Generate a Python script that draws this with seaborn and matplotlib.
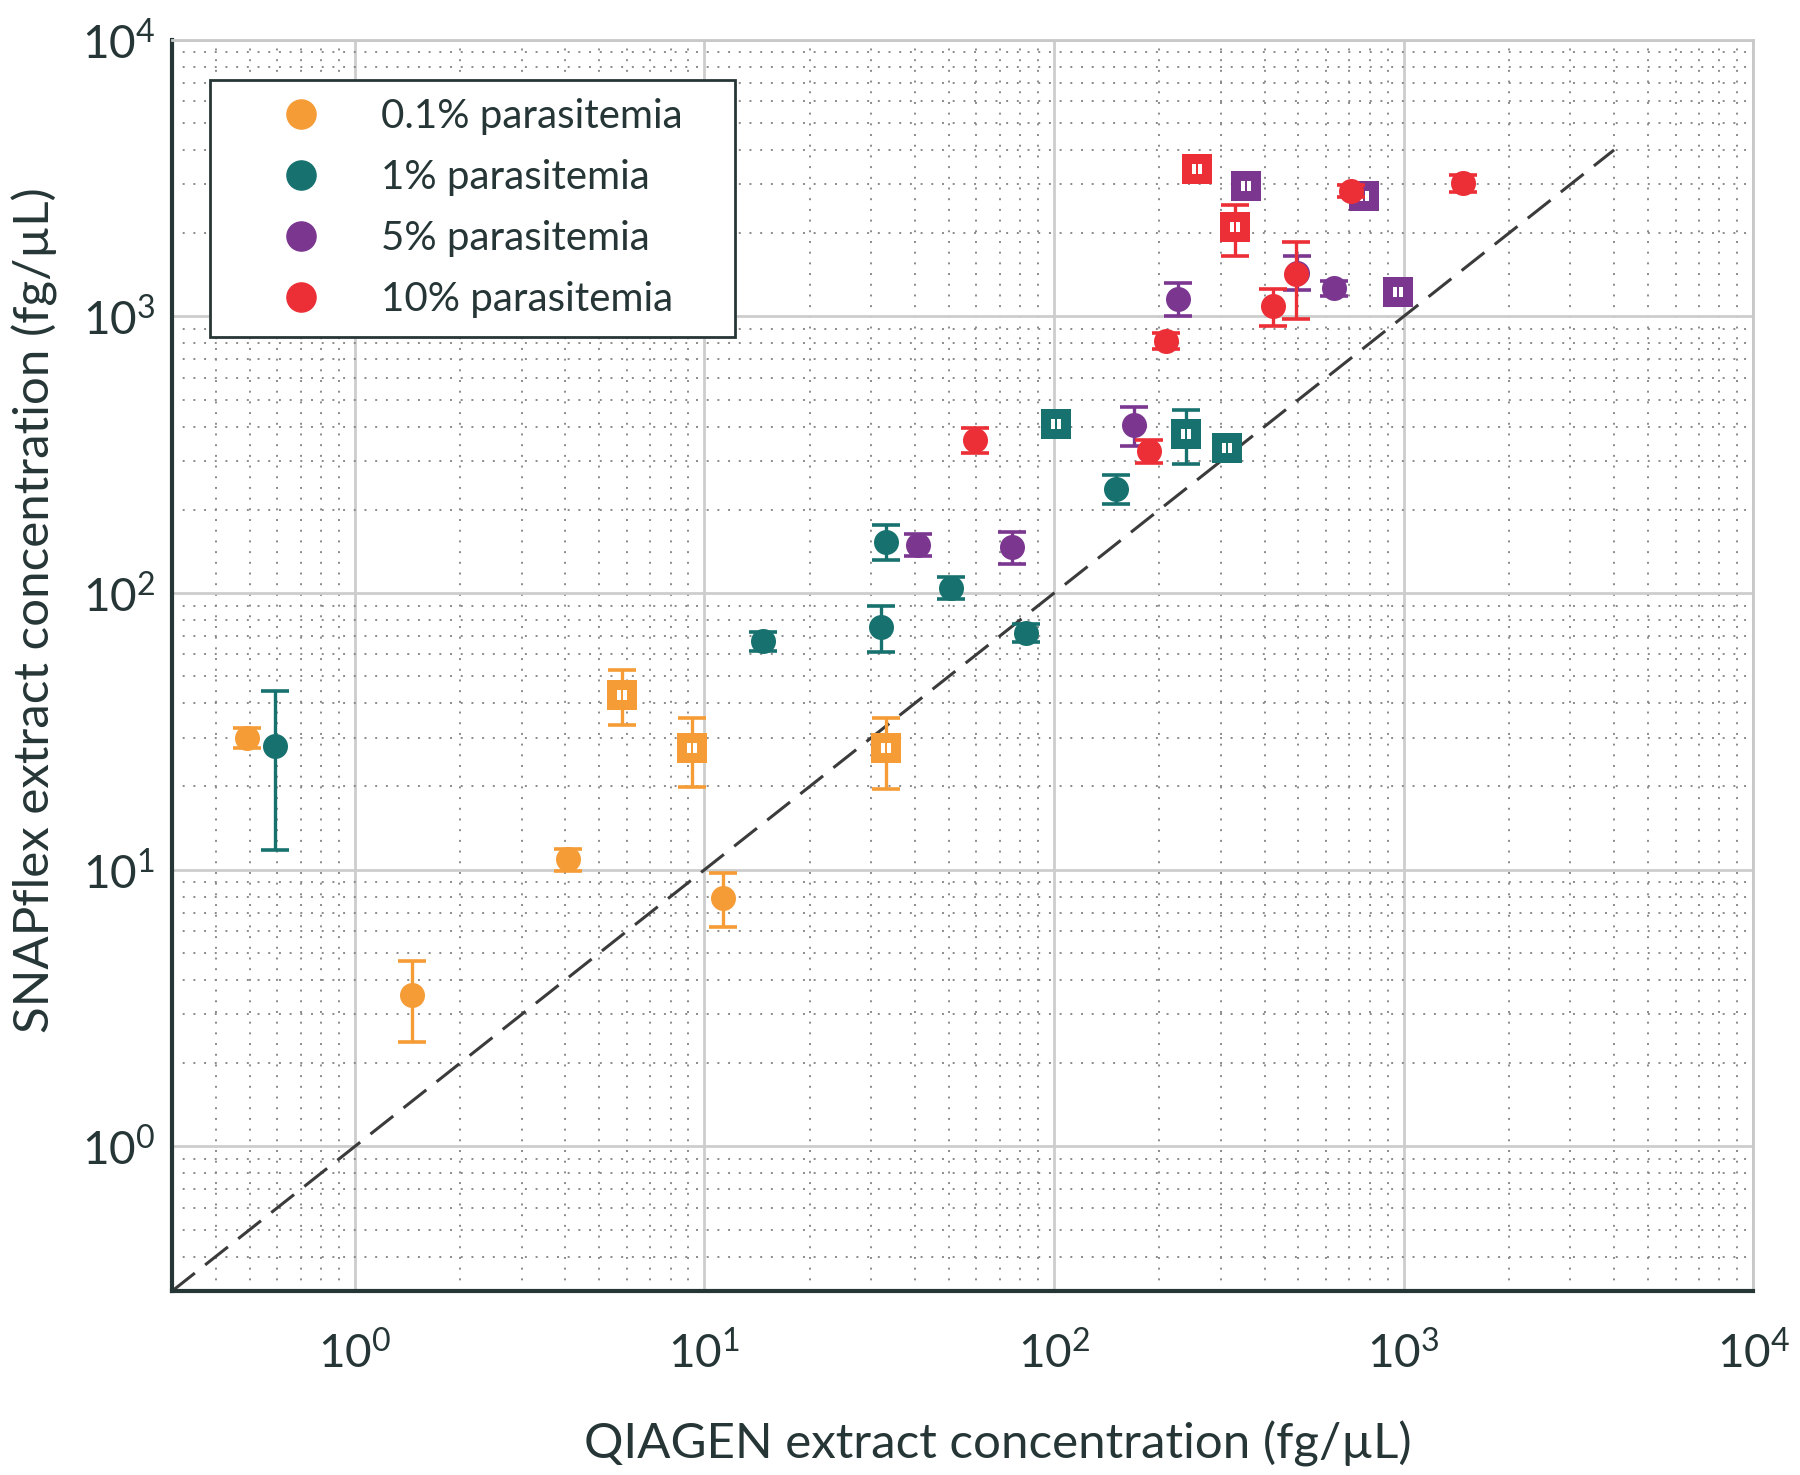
import numpy as np
import pandas as pd
import matplotlib
matplotlib.use("Agg")
import matplotlib.pyplot as plt
import seaborn as sns
from matplotlib.lines import Line2D
from matplotlib.path import Path
from matplotlib.ticker import LogLocator

# ---------------- data ----------------
groups = ["0.1% parasitemia", "1% parasitemia", "5% parasitemia", "10% parasitemia"]
colors = ["#F59C36", "#17726F", "#7B3690", "#EC2F37"]

# 0.1 %
o_c_x  = [0.49, 1.46, 4.08, 11.3]
o_c_y  = [30.0, 3.53, 10.9, 7.9]
o_c_lo = [27.6, 2.38, 9.9, 6.2]
o_c_hi = [32.5, 4.68, 11.9, 9.7]
o_s_x  = [5.8, 9.2, 33.1]
o_s_y  = [42.7, 27.6, 27.5]
o_s_lo = [33.4, 19.9, 19.6]
o_s_hi = [52.6, 35.3, 35.3]

# 1 %
t_c_x  = [0.59, 14.7, 32.0, 33.1, 50.8, 83.4, 150]
t_c_y  = [28.0, 67.0, 75.3, 153, 104, 72.0, 238]
t_c_lo = [11.8, 62.0, 61.5, 132, 95, 66.5, 210]
t_c_hi = [44.3, 72.5, 90.0, 176, 114, 77.5, 268]
t_s_x  = [101, 239, 313]
t_s_y  = [408, 376, 335]
t_s_lo = [385, 292, 318]
t_s_hi = [430, 460, 352]

# 5 %
p_c_x  = [40.8, 75.9, 169, 227, 495, 632]
p_c_y  = [149, 147, 406, 1160, 1435, 1268]
p_c_lo = [136, 127, 340, 1000, 1246, 1190]
p_c_hi = [163, 166, 472, 1324, 1650, 1345]
p_s_x  = [353, 771, 966]
p_s_y  = [2950, 2720, 1226]
p_s_lo = [2850, 2630, 1185]
p_s_hi = [3050, 2810, 1268]

# 10 %
r_c_x  = [59.4, 187, 209, 424, 492, 708, 1478]
r_c_y  = [358, 326, 815, 1090, 1429, 2838, 3035]
r_c_lo = [321, 296, 765, 924, 978, 2700, 2820]
r_c_hi = [395, 358, 868, 1252, 1857, 2980, 3250]
r_s_x  = [257, 330]
r_s_y  = [3400, 2100]
r_s_lo = [3300, 1650]
r_s_hi = [3500, 2520]

series = [
    (groups[0], "circle", o_c_x, o_c_y, o_c_lo, o_c_hi),
    (groups[0], "square", o_s_x, o_s_y, o_s_lo, o_s_hi),
    (groups[1], "circle", t_c_x, t_c_y, t_c_lo, t_c_hi),
    (groups[1], "square", t_s_x, t_s_y, t_s_lo, t_s_hi),
    (groups[2], "circle", p_c_x, p_c_y, p_c_lo, p_c_hi),
    (groups[2], "square", p_s_x, p_s_y, p_s_lo, p_s_hi),
    (groups[3], "circle", r_c_x, r_c_y, r_c_lo, r_c_hi),
    (groups[3], "square", r_s_x, r_s_y, r_s_lo, r_s_hi),
]
rows = []
for g, shp, xs, ys, los, his in series:
    for x, y, lo, hi in zip(xs, ys, los, his):
        rows.append(dict(qiagen=x, snap=y, lo=lo, hi=hi, group=g, shape=shp))
df = pd.DataFrame(rows)

identity = [0.3, 4000]

# white double-bar glyph drawn inside the square markers
bar_verts = [(-0.5, -0.5), (-0.12, -0.5), (-0.12, 0.5), (-0.5, 0.5), (-0.5, -0.5),
             (0.12, -0.5), (0.5, -0.5), (0.5, 0.5), (0.12, 0.5), (0.12, -0.5)]
bar_codes = [Path.MOVETO, Path.LINETO, Path.LINETO, Path.LINETO, Path.CLOSEPOLY] * 2
double_bar = Path(bar_verts, bar_codes)

# ---------------- style ----------------
sns.set_theme(style="white")
plt.rcParams["font.family"] = ["Lato", "DejaVu Sans"]
plt.rcParams["mathtext.fontset"] = "custom"
plt.rcParams["mathtext.rm"] = "Lato"
plt.rcParams["mathtext.it"] = "Lato"
plt.rcParams["mathtext.bf"] = "Lato:bold"
dark = "#263636"

fig = plt.figure(figsize=(18, 14.75), dpi=100)
ax = fig.add_axes([0.0956, 0.1247, 0.8784, 0.8483])
ax.set_xscale("log")
ax.set_yscale("log")
ax.set_xlim(0.3, 1e4)
ax.set_ylim(0.3, 1e4)

ax.grid(which="major", color="#cdcdcd", lw=2.0, ls="-", zorder=0)
ax.grid(which="minor", color="#8a8a8a", lw=1.4, ls=(0, (1, 4.5)), zorder=0)
ax.set_axisbelow(True)

ax.plot(identity, identity, ls=(0, (9.5, 4.3)), color="#3b3b3b", lw=2.2, zorder=1)

palette = dict(zip(groups, colors))
z = 2
for g in groups:
    sub = df[df.group == g]
    c = palette[g]
    ax.errorbar(sub.qiagen, sub.snap,
                yerr=[sub.snap - sub.lo, sub.hi - sub.snap],
                fmt="none", ecolor=c, elinewidth=2.4, capsize=10,
                capthick=2.6, zorder=z)
    sc = sub[sub["shape"] == "circle"]
    sq = sub[sub["shape"] == "square"]
    sns.scatterplot(data=sc, x="qiagen", y="snap", color=c, marker="o",
                    s=18 ** 2, linewidth=0, ax=ax, zorder=z + 1, legend=False)
    sns.scatterplot(data=sq, x="qiagen", y="snap", color=c, marker="s",
                    s=22 ** 2, linewidth=0, ax=ax, zorder=z + 1, legend=False)
    if len(sq):
        ax.scatter(sq.qiagen, sq.snap, marker=double_bar, color="white",
                   s=7.5 ** 2, linewidths=0, zorder=z + 2)
    z += 3

# spines
for s in ["left", "bottom"]:
    ax.spines[s].set_color(dark)
    ax.spines[s].set_linewidth(3)
for s in ["top", "right"]:
    ax.spines[s].set_color("#c8c8c8")
    ax.spines[s].set_linewidth(2)

ax.xaxis.set_major_locator(LogLocator(base=10, numticks=10))
ax.yaxis.set_major_locator(LogLocator(base=10, numticks=10))
ax.xaxis.set_minor_locator(LogLocator(base=10, subs=np.arange(2, 10), numticks=20))
ax.yaxis.set_minor_locator(LogLocator(base=10, subs=np.arange(2, 10), numticks=20))
ax.tick_params(which="major", direction="in", length=12, width=2.5, color=dark,
               labelsize=33, labelcolor=dark, top=False, right=False)
ax.tick_params(which="minor", direction="in", length=7, width=2, color=dark,
               top=False, right=False)
ax.tick_params(axis="x", which="major", pad=28)
ax.tick_params(axis="y", which="major", pad=12)

ax.set_xlabel("QIAGEN extract concentration (fg/µL)", fontsize=35.5, color=dark)
ax.set_ylabel("SNAPflex extract concentration (fg/µL)", fontsize=35.5, color=dark)
ax.xaxis.set_label_coords(0.522, -0.104)
ax.yaxis.set_label_coords(-0.072, 0.544)

handles = [Line2D([0], [0], marker="o", ls="none", color=c, markersize=21)
           for c in colors]
leg = ax.legend(handles, groups, loc="upper left",
                bbox_to_anchor=(0.024, 0.5, 0.332, 0.468), mode="expand",
                fontsize=29, frameon=True,
                fancybox=False, edgecolor=dark, framealpha=1,
                handlelength=3.6, handletextpad=0.2, labelspacing=0.6,
                borderpad=0.45, borderaxespad=0, labelcolor=dark)
leg.get_frame().set_linewidth(2)
leg.set_zorder(50)

fig.savefig("out.png", dpi=100)
